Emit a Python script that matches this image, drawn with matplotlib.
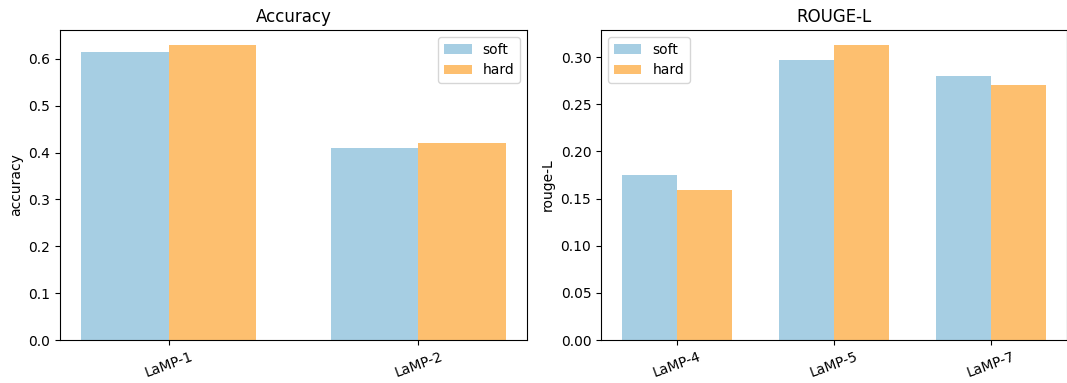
import numpy as np
import matplotlib
matplotlib.use("Agg")
import matplotlib.pyplot as plt

# Accuracy panel
acc_tasks = ["LaMP-1", "LaMP-2"]
acc_soft = [0.615, 0.409]
acc_hard = [0.630, 0.420]

# ROUGE-L panel
rouge_tasks = ["LaMP-4", "LaMP-5", "LaMP-7"]
rouge_soft = [0.1752, 0.2965, 0.2795]
rouge_hard = [0.1585, 0.3130, 0.2706]

soft_color = "#a6cee3"
hard_color = "#fdbf6f"
width = 0.35


def plot_panel(ax, tasks, soft, hard, title, ylabel, loc):
    x = np.arange(len(tasks))
    ax.bar(x - width / 2, soft, width, color=soft_color, label="soft")
    ax.bar(x + width / 2, hard, width, color=hard_color, label="hard")
    ax.set_xticks(x)
    ax.set_xticklabels(tasks, rotation=20)
    ax.set_title(title)
    ax.set_ylabel(ylabel)
    ax.legend(loc=loc)


fig = plt.figure(figsize=(10.67, 3.83), dpi=100)
ax1 = fig.add_axes([60 / 1067, 43 / 383, 467 / 1067, 310 / 383])
ax2 = fig.add_axes([601 / 1067, 43 / 383, 466 / 1067, 310 / 383])

plot_panel(ax1, acc_tasks, acc_soft, acc_hard, "Accuracy", "accuracy", "upper right")
plot_panel(ax2, rouge_tasks, rouge_soft, rouge_hard, "ROUGE-L", "rouge-L", "upper left")

fig.savefig("out.png", dpi=100)
